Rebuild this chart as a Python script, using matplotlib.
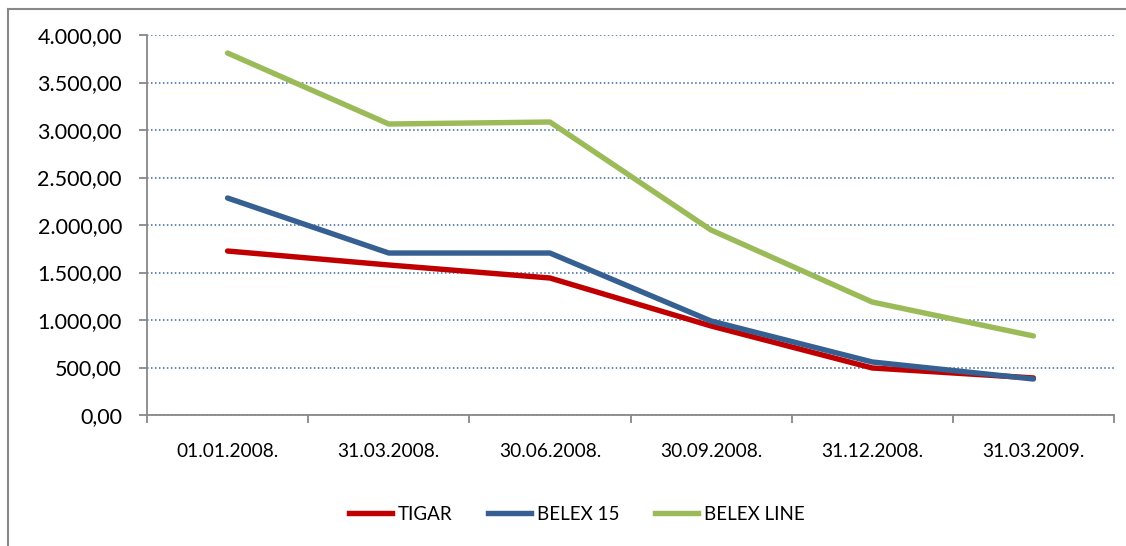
import matplotlib
matplotlib.use("Agg")
import matplotlib.pyplot as plt
from matplotlib.lines import Line2D
from matplotlib.ticker import FuncFormatter, MultipleLocator

categories = ["01.01.2008.", "31.03.2008.", "30.06.2008.", "30.09.2008.", "31.12.2008.", "31.03.2009."]
tigar = [1726, 1579, 1442, 937, 495, 390]
belex15 = [2284, 1705, 1705, 989, 558, 379]
belexline = [3810, 3063, 3084, 1947, 1189, 832]
series_names = ["TIGAR", "BELEX 15", "BELEX LINE"]
colors = ["#C00000", "#376092", "#9BBB59"]

plt.rcParams['font.family'] = ['Lato', 'DejaVu Sans']

W, H = 1126, 546
fig = plt.figure(figsize=(W / 100, H / 100), dpi=100)

# outer frame (left and top edges visible)
fig.add_artist(Line2D([8 / W, 8 / W], [0, 1 - 8.5 / H], transform=fig.transFigure, color="#888888", lw=1.5))
fig.add_artist(Line2D([8 / W, 1], [1 - 8.5 / H, 1 - 8.5 / H], transform=fig.transFigure, color="#888888", lw=1.5))

ax = fig.add_axes([147 / W, 1 - 415 / H, (1114 - 147) / W, (415 - 35) / H])

x = list(range(len(categories)))
for vals, name, c in zip([tigar, belex15, belexline], series_names, colors):
    ax.plot(x, vals, color=c, lw=3.9, label=name, solid_capstyle="round", solid_joinstyle="round")

ax.set_xlim(-0.5, len(categories) - 0.5)
ax.set_ylim(0, 4000)
ax.yaxis.set_major_locator(MultipleLocator(500))

def fmt(v, pos):
    s = f"{v:,.2f}"
    return s.replace(",", "X").replace(".", ",").replace("X", ".")

ax.yaxis.set_major_formatter(FuncFormatter(fmt))
ax.grid(axis="y", color="#3B64A0", linestyle=(0, (1, 1.6)), lw=1.1)
ax.set_axisbelow(True)

ax.set_xticks(x)
ax.set_xticklabels(categories, fontsize=13.8)
ax.tick_params(axis="x", length=0, pad=20, colors="#000000")
ax.set_xticks([i - 0.5 for i in range(len(categories) + 1)], minor=True)
ax.tick_params(axis="x", which="minor", length=6, color="#888888", width=1.3, direction="out")
ax.tick_params(axis="y", length=6, color="#888888", width=1.3, labelsize=15.5, pad=12)

for s in ["top", "right"]:
    ax.spines[s].set_visible(False)
for s in ["left", "bottom"]:
    ax.spines[s].set_color("#888888")
    ax.spines[s].set_linewidth(1.3)

handles = [Line2D([0], [0], color=c, lw=3.9) for c in colors]
fig.legend(handles, series_names, loc="center", bbox_to_anchor=(577 / W, 1 - 514 / H),
           ncol=3, frameon=False, fontsize=13.5, handlelength=2.3, handletextpad=0.3,
           columnspacing=1.9)

fig.savefig("out.png", dpi=100, facecolor="white")
